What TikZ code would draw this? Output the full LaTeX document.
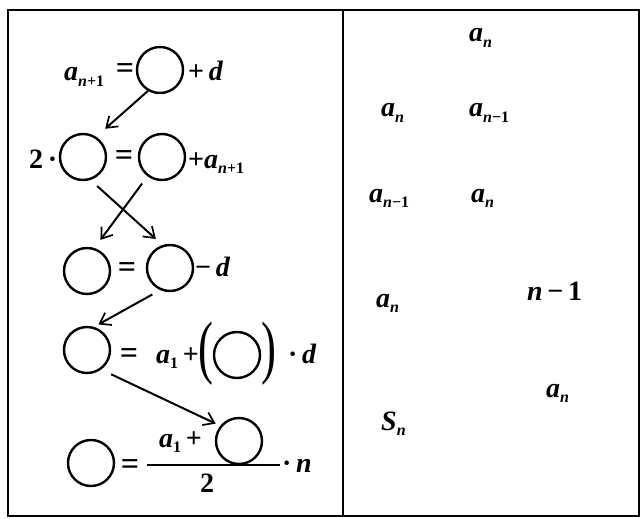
\documentclass[tikz,border=0pt]{standalone}
\usepackage{fontspec}
\usepackage{graphicx}
\setmainfont{Liberation Serif}
\usetikzlibrary{arrows.meta}
\newcommand\vb[1]{\textbf{\textit{#1}}}
\newcommand\sbx[1]{\raisebox{-0.45ex}{\fontsize{16}{16}\selectfont\bfseries #1}}
\begin{document}
\begin{tikzpicture}[x=1pt,y=-1pt,
  circ/.style={draw,circle,line width=2.4pt,minimum size=46pt,inner sep=0pt},
  txt/.style={inner sep=0pt,anchor=base west,font=\fontsize{28}{32}\selectfont\bfseries},
  eq/.style={inner sep=0pt,anchor=base,font=\fontsize{32}{34}\selectfont\bfseries},
  par/.style={inner sep=0pt,anchor=center,font=\fontsize{56}{60}\selectfont},
  arr/.style={line width=2pt,-{Straight Barb[length=10pt,width=14pt,line width=1.7pt]}}]
\useasboundingbox (0,0) rectangle (641,519);
\draw[line width=2.5pt] (8,10) rectangle (639,516);
\draw[line width=2.5pt] (343,10) -- (343,516);
% Row 1
\node[txt] (t1) at (64,81) {\vb{a}\sbx{\textit{n}+1}};
\node[eq] (e1) at (125,79) {=};
\node[circ] (c1) at (160,70) {};
\node[txt] (p1) at (188,81) {+\,\vb{d}};
% Row 2
\node[txt] (t2) at (29,168) {2\,·};
\node[circ] (cA) at (83,157) {};
\node[eq] (e2) at (124,166) {=};
\node[circ] (cB) at (162,157) {};
\node[txt] (p2) at (188,168) {+\vb{a}\sbx{\textit{n}+1}};
% Row 3
\node[circ] (cC) at (87,271) {};
\node[eq] (e3) at (127,277) {=};
\node[circ] (cD) at (170,268) {};
\node[txt] (p3) at (195,276) {−\,\vb{d}};
% Row 4
\node[circ] (cE) at (87,350) {};
\node[eq] (e4) at (129,363) {=};
\node[txt] (t4) at (156,363) {\vb{a}\sbx{1}\,+};
\node[par] (lp) at (206,354) {\scalebox{0.8}[1.25]{(}};
\node[circ] (cF) at (237,355) {};
\node[par] (rp) at (269,354) {\scalebox{0.8}[1.25]{)}};
\node[txt] (p4) at (288,363) {·\,\vb{d}};
% Row 5
\node[circ] (cH) at (91,463) {};
\node[eq] (e5) at (130,474) {=};
\coordinate (fa) at (147,465);
\coordinate (fb) at (280,465);
\draw[line width=2pt] (fa) -- (fb);
\node[txt] (t5) at (159,447) {\vb{a}\sbx{1}\,+};
\node[circ] (cG) at (239,441) {};
\node[txt,anchor=base] (d5) at (207,492) {2};
\node[txt] (p5) at (282,472) {·\,\vb{n}};
% Arrows
\draw[arr,shorten >=12pt] (c1.240) -- (cA.57);
\draw[arr,shorten <=9pt,shorten >=9pt] (cA.288) -- (cD.108);
\draw[arr,shorten <=9pt,shorten >=10pt] (cB.233) -- (cC.72);
\draw[arr,shorten <=9pt,shorten >=5pt] (cD.246) -- (cE.73);
\draw[arr,shorten <=11pt,shorten >=5pt] (cE.306) -- (cG.141);
% Right panel
\node[txt] (r1) at (469,42) {\vb{a}\sbx{\textit{n}}};
\node[txt] (r2) at (381,117) {\vb{a}\sbx{\textit{n}}};
\node[txt] (r3) at (469,117) {\vb{a}\sbx{\textit{n}−1}};
\node[txt] (r4) at (369,202) {\vb{a}\sbx{\textit{n}−1}};
\node[txt] (r5) at (471,202) {\vb{a}\sbx{\textit{n}}};
\node[txt] (r6) at (376,307) {\vb{a}\sbx{\textit{n}}};
\node[txt] (r7) at (527,300) {\vb{n}\,−\,1};
\node[txt] (r8) at (546,397) {\vb{a}\sbx{\textit{n}}};
\node[txt] (r9) at (381,430) {\vb{S}\sbx{\textit{n}}};
\end{tikzpicture}
\end{document}
